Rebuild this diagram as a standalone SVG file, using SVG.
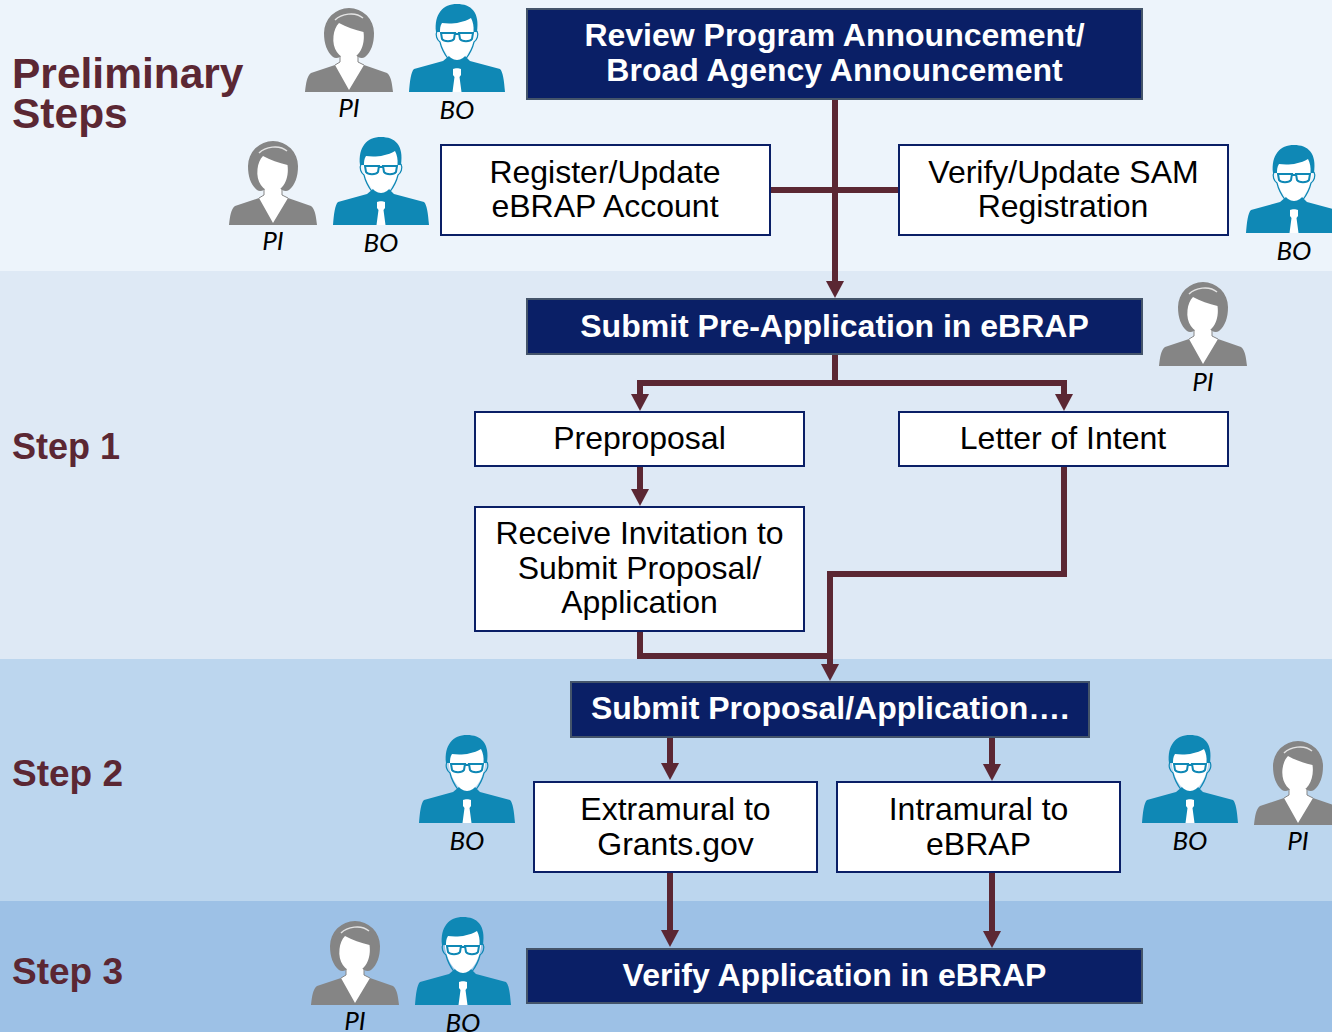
<svg xmlns="http://www.w3.org/2000/svg" width="1332" height="1032" viewBox="0 0 1332 1032">
<style>
text{font-family:"Liberation Sans",Arial,sans-serif}
.step{font-weight:700;fill:#5B2733;font-size:37px}
.big{font-size:42.5px}
.one{font-size:36px}
.nb{fill:#0A1F66;stroke:#44546A;stroke-width:2}
.wb{fill:#fff;stroke:#0A1F66;stroke-width:2}
.nt{font-weight:700;fill:#fff;font-size:32px;text-anchor:middle}
.wt{fill:#000;font-size:32px;text-anchor:middle}
.lb{font-family:Lato,"Open Sans",sans-serif;font-style:italic;font-size:26px;fill:#000;text-anchor:middle}
.c{fill:none;stroke:#5B2733;stroke-width:6}
</style>
<defs>
<marker id="a" markerUnits="userSpaceOnUse" markerWidth="17" markerHeight="18" refX="0" refY="9" orient="auto-start-reverse" viewBox="0 0 17 18"><path d="M0 0L17 9L0 18Z" fill="#5B2733"/></marker>
<g id="pi">
<path d="M0 84C1 75 2 68 6 65L30 57L44 60L59 57L82 65C86 68 87 75 88 84Z" fill="#858585"/>
<path d="M30 57L35 54V47H53V54L59 57L44 82Z" fill="#fff"/>
<path d="M35 47V54L30 57M53 47V54L59 57" fill="none" stroke="#858585" stroke-width="1"/>
<path d="M44 0A25 25 0 0 1 69 25C69 36 66 44 60 49C56 52 52 48 50 47L38 47C36 48 32 52 28 49C22 44 19 36 19 25A25 25 0 0 1 44 0Z" fill="#858585"/>
<path d="M34 15C41 19 50 22 58.500 24C60.500 38 54 50 43.500 51.500C34 50 27 41 28.500 28C29 23 31 18 34 15Z" fill="#fff"/>
<path d="M30 12C36 6 50 3 58 10" fill="none" stroke="#E4E4E4" stroke-width="1.500"/>
</g>
<g id="bo">
<path d="M0 88C1 76 2 68 5 65L34 57L40 52H56L61 57L91 65C94 68 95 76 96 88Z" fill="#0F88B5"/>
<path d="M30 30C32 44 40 56 48 56C56 56 64 44 66 30V12H30Z" fill="#fff"/>
<path d="M27 28C25 10 34 0 48 0C62 0 71 8 68 28H64.500C65 22 64 18 62 14C52 20 40 20 33 19C31 22 31 25 31 28Z" fill="#0F88B5"/>
<path d="M28 27C26 31 28 36 31 38C33 47 37 52 40 56M68 27C70 31 68 36 65 38C63 47 59 52 56 56" fill="none" stroke="#0F88B5" stroke-width="1.200"/>
<path d="M32 29H46L45 35C43 38 35 38 33 35ZM50 29H64L63 35C61 38 53 38 51 35ZM46 30H50" fill="#fff" stroke="#0F88B5" stroke-width="2"/>
<path d="M44 65C46 64 50 64 52 65V71L50.500 73L52.500 88H43.500L45.500 73L44 71Z" fill="#fff"/>
</g>
</defs>
<g id="background">
<rect x="0" y="0" width="1332" height="271" fill="#EDF4FB"/>
<rect x="0" y="271" width="1332" height="388" fill="#DEE9F5"/>
<rect x="0" y="659" width="1332" height="242" fill="#BCD6EE"/>
<rect x="0" y="901" width="1332" height="131" fill="#9DC1E6"/>
</g>
<g id="headings">
<text class="step big" x="12" y="88">Preliminary</text>
<text class="step big" x="12" y="128">Steps</text>
<text class="step one" x="12" y="459">Step 1</text>
<text class="step" x="12" y="786">Step 2</text>
<text class="step" x="12" y="984">Step 3</text>
</g>
<g id="connectors">
<path class="c" d="M835 99V281" marker-end="url(#a)"/>
<path class="c" d="M771 190H899"/>
<path class="c" d="M835 354V383"/>
<path class="c" d="M640 394V383H1064V394" marker-start="url(#a)" marker-end="url(#a)"/>
<path class="c" d="M640 466V489" marker-end="url(#a)"/>
<path class="c" d="M1064 466V574H830V664" marker-end="url(#a)"/>
<path class="c" d="M640 631V656H830"/>
<path class="c" d="M670 737V763" marker-end="url(#a)"/>
<path class="c" d="M992 737V764" marker-end="url(#a)"/>
<path class="c" d="M670 872V930" marker-end="url(#a)"/>
<path class="c" d="M992 872V931" marker-end="url(#a)"/>
</g>
<g id="n-review"><rect class="nb" x="527" y="9" width="615" height="90"/><text class="nt" x="834.500" y="46">Review Program Announcement/</text><text class="nt" x="834.500" y="81">Broad Agency Announcement</text></g>
<g id="n-register"><rect class="wb" x="441" y="145" width="329" height="90"/><text class="wt" x="605" y="183">Register/Update</text><text class="wt" x="605" y="217">eBRAP Account</text></g>
<g id="n-verify-sam"><rect class="wb" x="899" y="145" width="329" height="90"/><text class="wt" x="1063.500" y="183">Verify/Update SAM</text><text class="wt" x="1063" y="217">Registration</text></g>
<g id="n-preapp"><rect class="nb" x="527" y="299" width="615" height="55"/><text class="nt" x="834.500" y="337">Submit Pre-Application in eBRAP</text></g>
<g id="n-preproposal"><rect class="wb" x="475" y="412" width="329" height="54"/><text class="wt" x="639.500" y="449">Preproposal</text></g>
<g id="n-loi"><rect class="wb" x="899" y="412" width="329" height="54"/><text class="wt" x="1063" y="449">Letter of Intent</text></g>
<g id="n-invite"><rect class="wb" x="475" y="507" width="329" height="124"/><text class="wt" x="639.500" y="544">Receive Invitation to</text><text class="wt" x="639.500" y="579">Submit Proposal/</text><text class="wt" x="639.500" y="613">Application</text></g>
<g id="n-submit"><rect class="nb" x="571" y="682" width="518" height="55"/><text class="nt" x="830" y="719">Submit Proposal/Application….</text></g>
<g id="n-extramural"><rect class="wb" x="534" y="782" width="283" height="90"/><text class="wt" x="675.500" y="820">Extramural to</text><text class="wt" x="675.500" y="855">Grants.gov</text></g>
<g id="n-intramural"><rect class="wb" x="837" y="782" width="283" height="90"/><text class="wt" x="978.500" y="820">Intramural to</text><text class="wt" x="978.500" y="855">eBRAP</text></g>
<g id="n-verify-app"><rect class="nb" x="527" y="949" width="615" height="54"/><text class="nt" x="834.500" y="986">Verify Application in eBRAP</text></g>
<g id="p1"><use href="#pi" x="305" y="8"/><text class="lb" x="349" y="117">PI</text></g>
<g id="b1"><use href="#bo" x="409" y="4"/><text class="lb" x="457" y="119">BO</text></g>
<g id="p2"><use href="#pi" x="229" y="141"/><text class="lb" x="273" y="250">PI</text></g>
<g id="b2"><use href="#bo" x="333" y="137"/><text class="lb" x="381" y="252">BO</text></g>
<g id="b3"><use href="#bo" x="1246" y="145"/><text class="lb" x="1294" y="260">BO</text></g>
<g id="p3"><use href="#pi" x="1159" y="282"/><text class="lb" x="1203" y="391">PI</text></g>
<g id="b4"><use href="#bo" x="419" y="735"/><text class="lb" x="467" y="850">BO</text></g>
<g id="b5"><use href="#bo" x="1142" y="735"/><text class="lb" x="1190" y="850">BO</text></g>
<g id="p4"><use href="#pi" x="1254" y="741"/><text class="lb" x="1298" y="850">PI</text></g>
<g id="p5"><use href="#pi" x="311" y="921"/><text class="lb" x="355" y="1030">PI</text></g>
<g id="b6"><use href="#bo" x="415" y="917"/><text class="lb" x="463" y="1032">BO</text></g>
</svg>
